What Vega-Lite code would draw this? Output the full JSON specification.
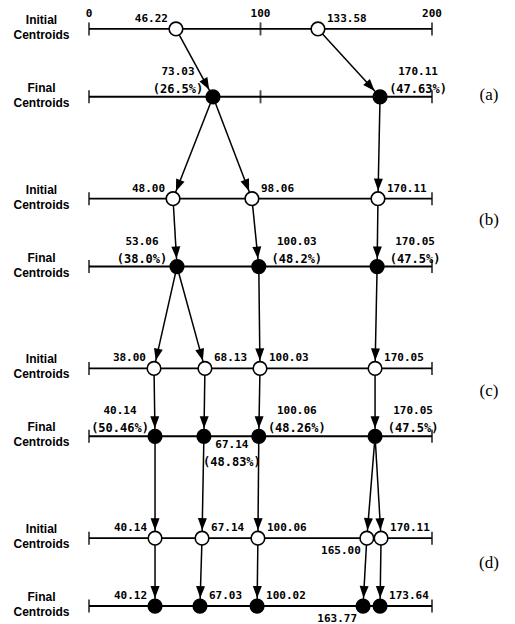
{
  "$schema": "https://vega.github.io/schema/vega-lite/v6.json",
  "width": 515,
  "height": 624,
  "autosize": {"type": "fit", "contains": "padding"},
  "padding": 0,
  "background": "white",
  "config": {"view": {"stroke": null}},
  "datasets": {
    "rows": [
      {"level": 0, "name": "Initial\nCentroids"},
      {"level": 1, "name": "Final\nCentroids"},
      {"level": 2.5, "name": "Initial\nCentroids"},
      {"level": 3.5, "name": "Final\nCentroids"},
      {"level": 5, "name": "Initial\nCentroids"},
      {"level": 6, "name": "Final\nCentroids"},
      {"level": 7.5, "name": "Initial\nCentroids"},
      {"level": 8.5, "name": "Final\nCentroids"}
    ],
    "ticks": [
      {"level": 0, "at": 0}, {"level": 0, "at": 100}, {"level": 0, "at": 200},
      {"level": 1, "at": 0}, {"level": 1, "at": 100}, {"level": 1, "at": 200},
      {"level": 2.5, "at": 0}, {"level": 2.5, "at": 200},
      {"level": 3.5, "at": 0}, {"level": 3.5, "at": 200},
      {"level": 5, "at": 0}, {"level": 5, "at": 200},
      {"level": 6, "at": 0}, {"level": 6, "at": 200},
      {"level": 7.5, "at": 0}, {"level": 7.5, "at": 200},
      {"level": 8.5, "at": 0}, {"level": 8.5, "at": 200}
    ],
    "scaleLabels": [
      {"level": 0, "at": 0, "text": "0"},
      {"level": 0, "at": 100, "text": "100"},
      {"level": 0, "at": 200, "text": "200"}
    ],
    "panels": [
      {"level": 0.97, "panel": "(a)"},
      {"level": 2.81, "panel": "(b)"},
      {"level": 5.34, "panel": "(c)"},
      {"level": 7.87, "panel": "(d)"}
    ],
    "points": [
      {"level": 0, "pos": 50.7, "kind": "initial", "value": "46.22", "place": "upper-left"},
      {"level": 0, "pos": 133.5, "kind": "initial", "value": "133.58", "place": "upper-right"},
      {"level": 1, "pos": 72.3, "kind": "final", "value": "73.03", "pct": "(26.5%)", "place": "stack-left"},
      {"level": 1, "pos": 169.7, "kind": "final", "value": "170.11", "pct": "(47.63%)", "place": "stack-right"},
      {"level": 2.5, "pos": 49, "kind": "initial", "value": "48.00", "place": "upper-left"},
      {"level": 2.5, "pos": 95, "kind": "initial", "value": "98.06", "place": "upper-right"},
      {"level": 2.5, "pos": 168.5, "kind": "initial", "value": "170.11", "place": "upper-right"},
      {"level": 3.5, "pos": 51.3, "kind": "final", "value": "53.06", "pct": "(38.0%)", "place": "stack-left"},
      {"level": 3.5, "pos": 99, "kind": "final", "value": "100.03", "pct": "(48.2%)", "place": "stack-right"},
      {"level": 3.5, "pos": 168, "kind": "final", "value": "170.05", "pct": "(47.5%)", "place": "stack-right"},
      {"level": 5, "pos": 37.9, "kind": "initial", "value": "38.00", "place": "upper-left"},
      {"level": 5, "pos": 67.6, "kind": "initial", "value": "68.13", "place": "upper-right"},
      {"level": 5, "pos": 99.7, "kind": "initial", "value": "100.03", "place": "upper-right"},
      {"level": 5, "pos": 166.8, "kind": "initial", "value": "170.05", "place": "upper-right"},
      {"level": 6, "pos": 38.5, "kind": "final", "value": "40.14", "pct": "(50.46%)", "place": "stack-left"},
      {"level": 6, "pos": 67, "kind": "final", "value": "67.14", "pct": "(48.83%)", "place": "stack-below"},
      {"level": 6, "pos": 99, "kind": "final", "value": "100.06", "pct": "(48.26%)", "place": "stack-right"},
      {"level": 6, "pos": 166.8, "kind": "final", "value": "170.05", "pct": "(47.5%)", "place": "stack-right"},
      {"level": 7.5, "pos": 38.5, "kind": "initial", "value": "40.14", "place": "upper-left"},
      {"level": 7.5, "pos": 65.9, "kind": "initial", "value": "67.14", "place": "upper-right"},
      {"level": 7.5, "pos": 98.5, "kind": "initial", "value": "100.06", "place": "upper-right"},
      {"level": 7.5, "pos": 162, "kind": "initial", "value": "165.00", "place": "lower-left"},
      {"level": 7.5, "pos": 170.3, "kind": "initial", "value": "170.11", "place": "upper-right"},
      {"level": 8.5, "pos": 38.5, "kind": "final", "value": "40.12", "place": "upper-left"},
      {"level": 8.5, "pos": 64.7, "kind": "final", "value": "67.03", "place": "upper-right"},
      {"level": 8.5, "pos": 98, "kind": "final", "value": "100.02", "place": "upper-right"},
      {"level": 8.5, "pos": 159.8, "kind": "final", "value": "163.77", "place": "lower-left"},
      {"level": 8.5, "pos": 169.7, "kind": "final", "value": "173.64", "place": "upper-right"}
    ],
    "arrows": [
      {"from_pos": 50.7, "from_level": 0, "to_pos": 72.3, "to_level": 1},
      {"from_pos": 133.5, "from_level": 0, "to_pos": 169.7, "to_level": 1},
      {"from_pos": 72.3, "from_level": 1, "to_pos": 49, "to_level": 2.5},
      {"from_pos": 72.3, "from_level": 1, "to_pos": 95, "to_level": 2.5},
      {"from_pos": 169.7, "from_level": 1, "to_pos": 168.5, "to_level": 2.5},
      {"from_pos": 49, "from_level": 2.5, "to_pos": 51.3, "to_level": 3.5},
      {"from_pos": 95, "from_level": 2.5, "to_pos": 99, "to_level": 3.5},
      {"from_pos": 168.5, "from_level": 2.5, "to_pos": 168, "to_level": 3.5},
      {"from_pos": 51.3, "from_level": 3.5, "to_pos": 37.9, "to_level": 5},
      {"from_pos": 51.3, "from_level": 3.5, "to_pos": 67.6, "to_level": 5},
      {"from_pos": 99, "from_level": 3.5, "to_pos": 99.7, "to_level": 5},
      {"from_pos": 168, "from_level": 3.5, "to_pos": 166.8, "to_level": 5},
      {"from_pos": 37.9, "from_level": 5, "to_pos": 38.5, "to_level": 6},
      {"from_pos": 67.6, "from_level": 5, "to_pos": 67, "to_level": 6},
      {"from_pos": 99.7, "from_level": 5, "to_pos": 99, "to_level": 6},
      {"from_pos": 166.8, "from_level": 5, "to_pos": 166.8, "to_level": 6},
      {"from_pos": 38.5, "from_level": 6, "to_pos": 38.5, "to_level": 7.5},
      {"from_pos": 67, "from_level": 6, "to_pos": 65.9, "to_level": 7.5},
      {"from_pos": 99, "from_level": 6, "to_pos": 98.5, "to_level": 7.5},
      {"from_pos": 166.8, "from_level": 6, "to_pos": 162, "to_level": 7.5},
      {"from_pos": 166.8, "from_level": 6, "to_pos": 170.3, "to_level": 7.5},
      {"from_pos": 38.5, "from_level": 7.5, "to_pos": 38.5, "to_level": 8.5},
      {"from_pos": 65.9, "from_level": 7.5, "to_pos": 64.7, "to_level": 8.5},
      {"from_pos": 98.5, "from_level": 7.5, "to_pos": 98, "to_level": 8.5},
      {"from_pos": 162, "from_level": 7.5, "to_pos": 159.8, "to_level": 8.5},
      {"from_pos": 170.3, "from_level": 7.5, "to_pos": 169.7, "to_level": 8.5}
    ]
  },
  "layer": [
    {
      "data": {"name": "rows"},
      "mark": {"type": "rule", "color": "black", "strokeWidth": 1.9},
      "encoding": {
        "x": {"datum": 0, "type": "quantitative", "scale": {"domain": [-51.9, 248.4], "nice": false, "zero": false}, "axis": null},
        "x2": {"datum": 200},
        "y": {"field": "level", "type": "quantitative", "scale": {"domain": [-0.426, 8.75], "reverse": true, "nice": false, "zero": false}, "axis": null}
      }
    },
    {
      "data": {"name": "ticks"},
      "mark": {"type": "tick", "orient": "vertical", "size": 13, "thickness": 1.9, "color": "black"},
      "encoding": {
        "x": {"field": "at", "type": "quantitative", "scale": {"domain": [-51.9, 248.4], "nice": false, "zero": false}, "axis": null},
        "y": {"field": "level", "type": "quantitative", "scale": {"domain": [-0.426, 8.75], "reverse": true, "nice": false, "zero": false}, "axis": null}
      }
    },
    {
      "data": {"name": "arrows"},
      "mark": {"type": "rule", "color": "black", "strokeWidth": 1.5},
      "encoding": {
        "x": {"field": "from_pos", "type": "quantitative", "scale": {"domain": [-51.9, 248.4], "nice": false, "zero": false}, "axis": null},
        "x2": {"field": "to_pos"},
        "y": {"field": "from_level", "type": "quantitative", "scale": {"domain": [-0.426, 8.75], "reverse": true, "nice": false, "zero": false}, "axis": null},
        "y2": {"field": "to_level"}
      }
    },
    {
      "data": {"name": "arrows"},
      "transform": [
        {"calculate": "atan2(-(datum.to_pos - datum.from_pos) * 1.7133, (datum.to_level - datum.from_level) * 68) * 180 / PI", "as": "heading"}
      ],
      "mark": {"type": "point", "shape": "M0,-0.8L-0.45,-2.0L0.45,-2.0Z", "size": 400, "filled": true, "color": "black", "opacity": 1, "strokeWidth": 0},
      "encoding": {
        "x": {"field": "to_pos", "type": "quantitative", "scale": {"domain": [-51.9, 248.4], "nice": false, "zero": false}, "axis": null},
        "y": {"field": "to_level", "type": "quantitative", "scale": {"domain": [-0.426, 8.75], "reverse": true, "nice": false, "zero": false}, "axis": null},
        "angle": {"field": "heading", "type": "quantitative", "scale": null}
      }
    },
    {
      "data": {"name": "points"},
      "mark": {"type": "point", "shape": "circle", "size": 185, "filled": true, "opacity": 1, "stroke": "black", "strokeWidth": 1.6},
      "encoding": {
        "x": {"field": "pos", "type": "quantitative", "scale": {"domain": [-51.9, 248.4], "nice": false, "zero": false}, "axis": null},
        "y": {"field": "level", "type": "quantitative", "scale": {"domain": [-0.426, 8.75], "reverse": true, "nice": false, "zero": false}, "axis": null},
        "fill": {"field": "kind", "type": "nominal", "scale": {"domain": ["initial", "final"], "range": ["white", "black"]}, "legend": null}
      }
    },
    {
      "data": {"name": "points"},
      "transform": [{"filter": "datum.place === 'upper-left'"}],
      "mark": {"type": "text", "align": "right", "baseline": "middle", "dx": -8, "dy": -10, "font": "DejaVu Sans Mono", "fontWeight": "bold", "fontSize": 11, "color": "black"},
      "encoding": {
        "x": {"field": "pos", "type": "quantitative", "scale": {"domain": [-51.9, 248.4], "nice": false, "zero": false}, "axis": null},
        "y": {"field": "level", "type": "quantitative", "scale": {"domain": [-0.426, 8.75], "reverse": true, "nice": false, "zero": false}, "axis": null},
        "text": {"field": "value"}
      }
    },
    {
      "data": {"name": "points"},
      "transform": [{"filter": "datum.place === 'upper-right'"}],
      "mark": {"type": "text", "align": "left", "baseline": "middle", "dx": 9, "dy": -10, "font": "DejaVu Sans Mono", "fontWeight": "bold", "fontSize": 11, "color": "black"},
      "encoding": {
        "x": {"field": "pos", "type": "quantitative", "scale": {"domain": [-51.9, 248.4], "nice": false, "zero": false}, "axis": null},
        "y": {"field": "level", "type": "quantitative", "scale": {"domain": [-0.426, 8.75], "reverse": true, "nice": false, "zero": false}, "axis": null},
        "text": {"field": "value"}
      }
    },
    {
      "data": {"name": "points"},
      "transform": [{"filter": "datum.place === 'lower-left'"}],
      "mark": {"type": "text", "align": "right", "baseline": "middle", "dx": -6, "dy": 13, "font": "DejaVu Sans Mono", "fontWeight": "bold", "fontSize": 11, "color": "black"},
      "encoding": {
        "x": {"field": "pos", "type": "quantitative", "scale": {"domain": [-51.9, 248.4], "nice": false, "zero": false}, "axis": null},
        "y": {"field": "level", "type": "quantitative", "scale": {"domain": [-0.426, 8.75], "reverse": true, "nice": false, "zero": false}, "axis": null},
        "text": {"field": "value"}
      }
    },
    {
      "data": {"name": "points"},
      "transform": [{"filter": "datum.place === 'stack-left'"}],
      "mark": {"type": "text", "align": "center", "baseline": "middle", "dx": -35, "dy": -25, "font": "DejaVu Sans Mono", "fontWeight": "bold", "fontSize": 11, "color": "black"},
      "encoding": {
        "x": {"field": "pos", "type": "quantitative", "scale": {"domain": [-51.9, 248.4], "nice": false, "zero": false}, "axis": null},
        "y": {"field": "level", "type": "quantitative", "scale": {"domain": [-0.426, 8.75], "reverse": true, "nice": false, "zero": false}, "axis": null},
        "text": {"field": "value"}
      }
    },
    {
      "data": {"name": "points"},
      "transform": [{"filter": "datum.place === 'stack-left'"}],
      "mark": {"type": "text", "align": "center", "baseline": "middle", "dx": -35, "dy": -8, "font": "DejaVu Sans Mono", "fontWeight": "bold", "fontSize": 12, "color": "black"},
      "encoding": {
        "x": {"field": "pos", "type": "quantitative", "scale": {"domain": [-51.9, 248.4], "nice": false, "zero": false}, "axis": null},
        "y": {"field": "level", "type": "quantitative", "scale": {"domain": [-0.426, 8.75], "reverse": true, "nice": false, "zero": false}, "axis": null},
        "text": {"field": "pct"}
      }
    },
    {
      "data": {"name": "points"},
      "transform": [{"filter": "datum.place === 'stack-right'"}],
      "mark": {"type": "text", "align": "center", "baseline": "middle", "dx": 38, "dy": -25, "font": "DejaVu Sans Mono", "fontWeight": "bold", "fontSize": 11, "color": "black"},
      "encoding": {
        "x": {"field": "pos", "type": "quantitative", "scale": {"domain": [-51.9, 248.4], "nice": false, "zero": false}, "axis": null},
        "y": {"field": "level", "type": "quantitative", "scale": {"domain": [-0.426, 8.75], "reverse": true, "nice": false, "zero": false}, "axis": null},
        "text": {"field": "value"}
      }
    },
    {
      "data": {"name": "points"},
      "transform": [{"filter": "datum.place === 'stack-right'"}],
      "mark": {"type": "text", "align": "center", "baseline": "middle", "dx": 38, "dy": -8, "font": "DejaVu Sans Mono", "fontWeight": "bold", "fontSize": 12, "color": "black"},
      "encoding": {
        "x": {"field": "pos", "type": "quantitative", "scale": {"domain": [-51.9, 248.4], "nice": false, "zero": false}, "axis": null},
        "y": {"field": "level", "type": "quantitative", "scale": {"domain": [-0.426, 8.75], "reverse": true, "nice": false, "zero": false}, "axis": null},
        "text": {"field": "pct"}
      }
    },
    {
      "data": {"name": "points"},
      "transform": [{"filter": "datum.place === 'stack-below'"}],
      "mark": {"type": "text", "align": "center", "baseline": "middle", "dx": 28, "dy": 9, "font": "DejaVu Sans Mono", "fontWeight": "bold", "fontSize": 11, "color": "black"},
      "encoding": {
        "x": {"field": "pos", "type": "quantitative", "scale": {"domain": [-51.9, 248.4], "nice": false, "zero": false}, "axis": null},
        "y": {"field": "level", "type": "quantitative", "scale": {"domain": [-0.426, 8.75], "reverse": true, "nice": false, "zero": false}, "axis": null},
        "text": {"field": "value"}
      }
    },
    {
      "data": {"name": "points"},
      "transform": [{"filter": "datum.place === 'stack-below'"}],
      "mark": {"type": "text", "align": "center", "baseline": "middle", "dx": 28, "dy": 26, "font": "DejaVu Sans Mono", "fontWeight": "bold", "fontSize": 12, "color": "black"},
      "encoding": {
        "x": {"field": "pos", "type": "quantitative", "scale": {"domain": [-51.9, 248.4], "nice": false, "zero": false}, "axis": null},
        "y": {"field": "level", "type": "quantitative", "scale": {"domain": [-0.426, 8.75], "reverse": true, "nice": false, "zero": false}, "axis": null},
        "text": {"field": "pct"}
      }
    },
    {
      "data": {"name": "scaleLabels"},
      "mark": {"type": "text", "align": "center", "baseline": "middle", "dy": -15, "font": "DejaVu Sans Mono", "fontWeight": "bold", "fontSize": 11, "color": "black"},
      "encoding": {
        "x": {"field": "at", "type": "quantitative", "scale": {"domain": [-51.9, 248.4], "nice": false, "zero": false}, "axis": null},
        "y": {"field": "level", "type": "quantitative", "scale": {"domain": [-0.426, 8.75], "reverse": true, "nice": false, "zero": false}, "axis": null},
        "text": {"field": "text"}
      }
    },
    {
      "data": {"name": "rows"},
      "mark": {"type": "text", "align": "center", "baseline": "middle", "dy": -9, "lineBreak": "\n", "lineHeight": 15, "font": "Liberation Sans", "fontWeight": "bold", "fontSize": 12, "color": "black"},
      "encoding": {
        "x": {"datum": -27.7, "type": "quantitative", "scale": {"domain": [-51.9, 248.4], "nice": false, "zero": false}, "axis": null},
        "y": {"field": "level", "type": "quantitative", "scale": {"domain": [-0.426, 8.75], "reverse": true, "nice": false, "zero": false}, "axis": null},
        "text": {"field": "name"}
      }
    },
    {
      "data": {"name": "panels"},
      "mark": {"type": "text", "align": "center", "baseline": "middle", "font": "Liberation Serif", "fontSize": 17, "color": "black"},
      "encoding": {
        "x": {"datum": 233.2, "type": "quantitative", "scale": {"domain": [-51.9, 248.4], "nice": false, "zero": false}, "axis": null},
        "y": {"field": "level", "type": "quantitative", "scale": {"domain": [-0.426, 8.75], "reverse": true, "nice": false, "zero": false}, "axis": null},
        "text": {"field": "panel"}
      }
    }
  ]
}
